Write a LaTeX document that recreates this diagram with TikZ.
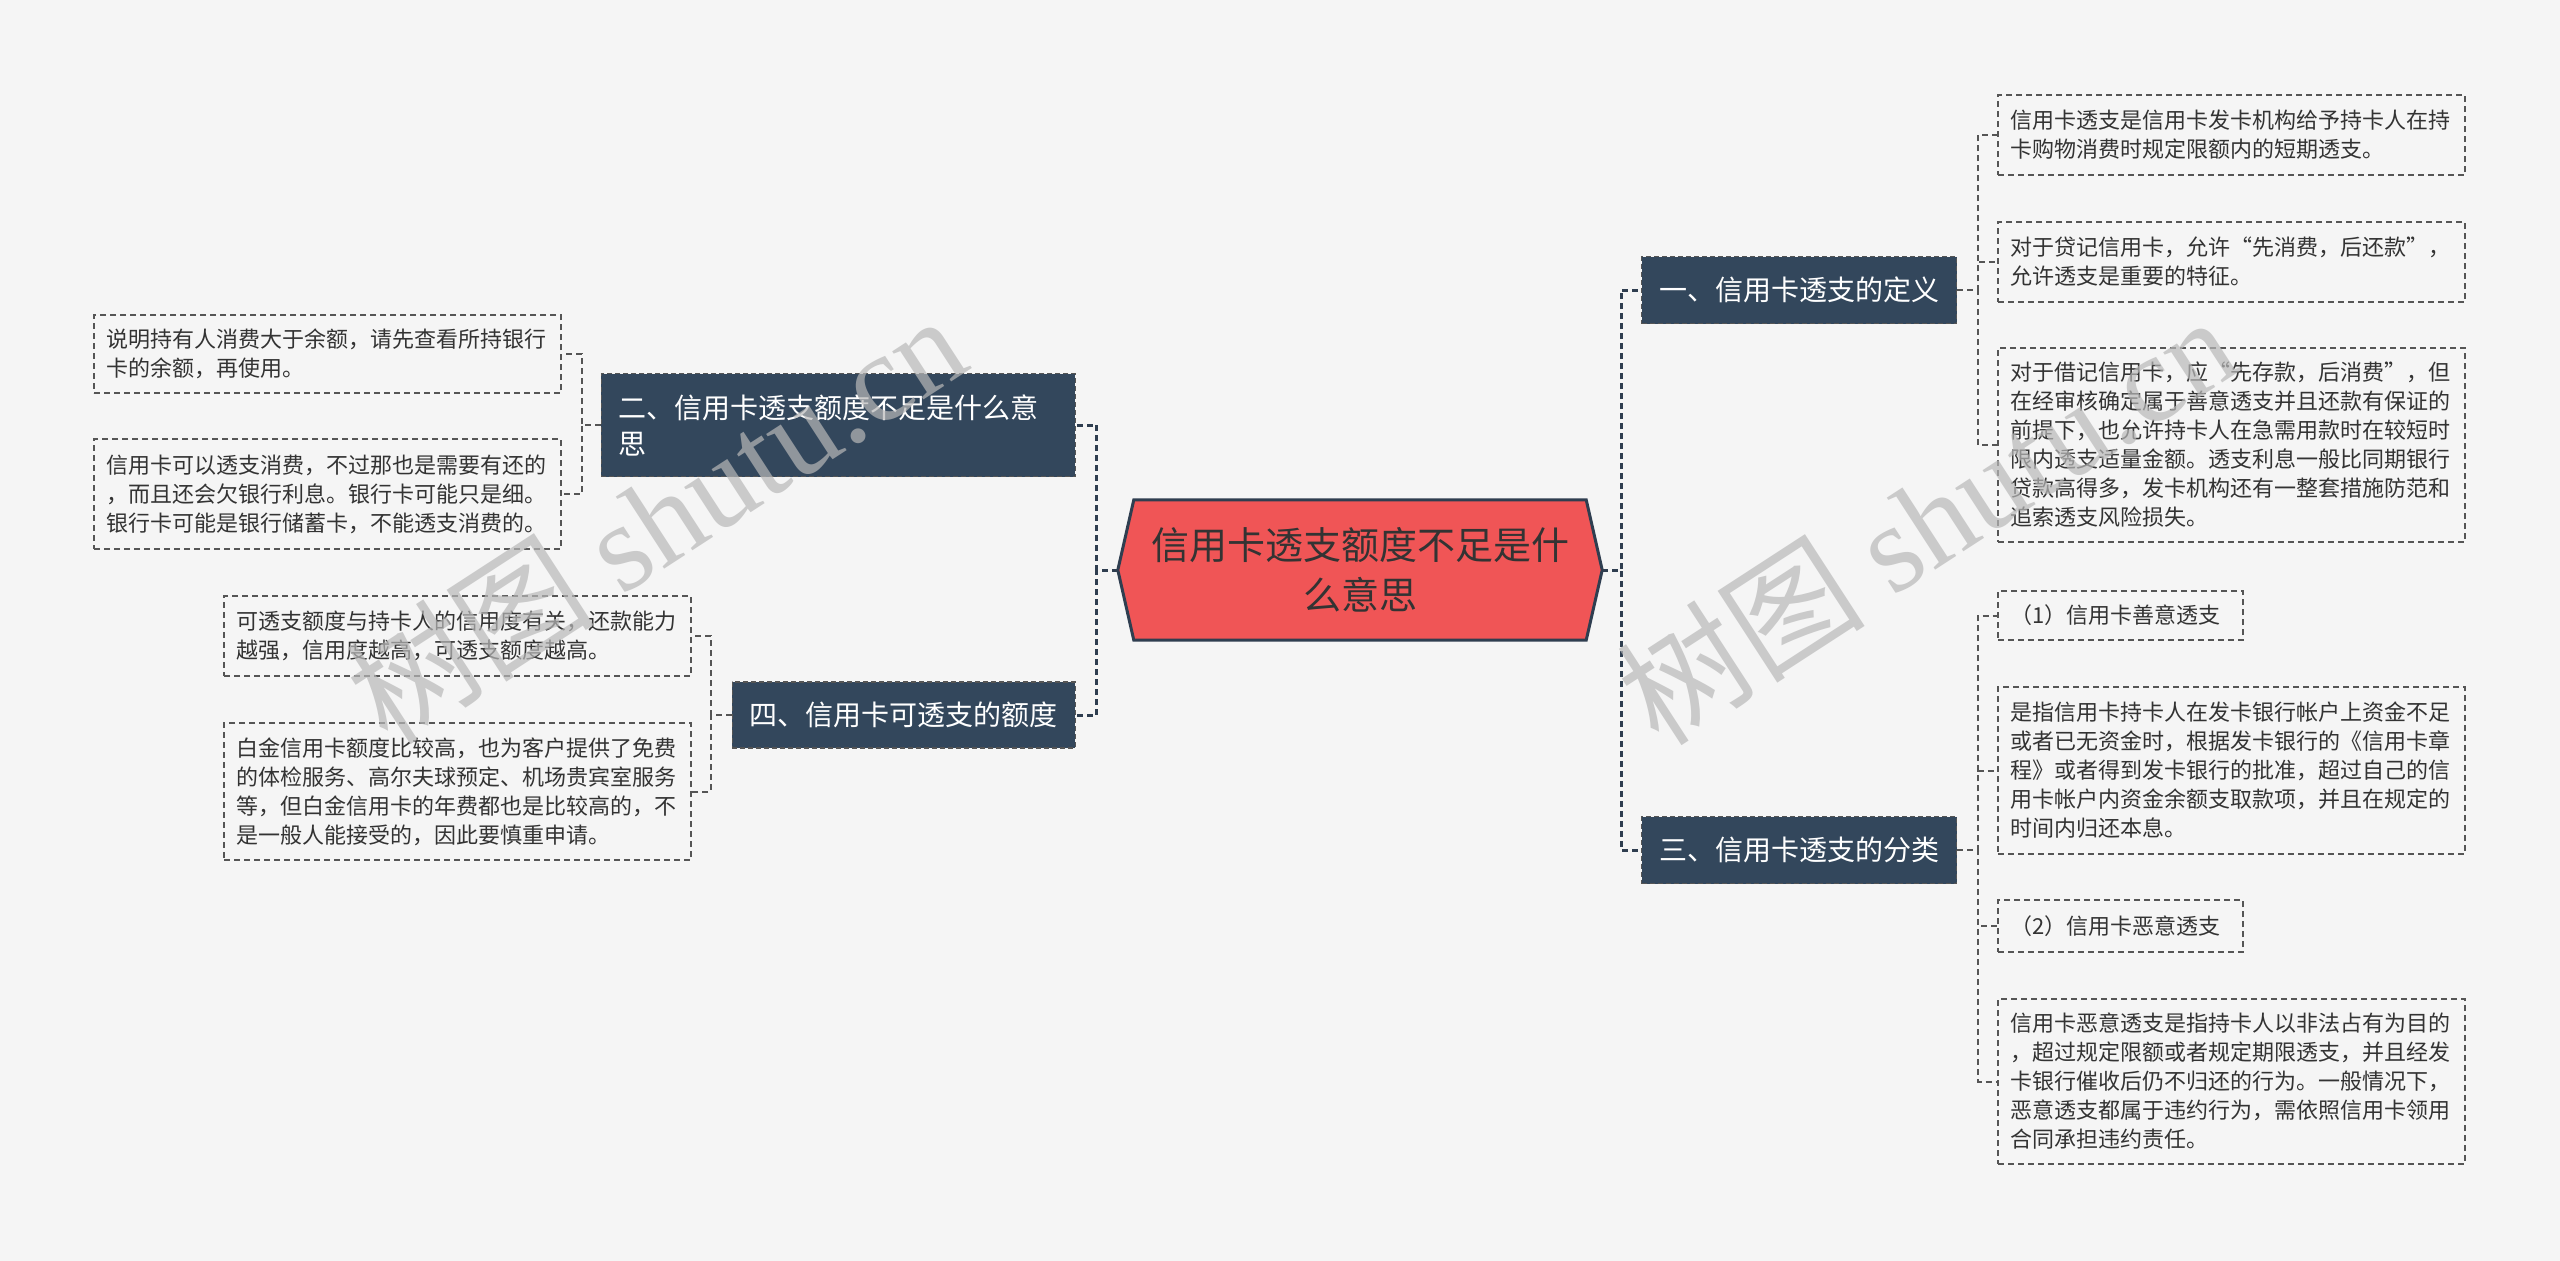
\documentclass[tikz,border=0pt]{standalone}
\usepackage{fontspec}
\setmainfont{Noto Sans CJK SC}
\newfontfamily\wmlatin{Liberation Serif}
\usetikzlibrary{calc}
\definecolor{bg}{HTML}{F5F5F5}
\definecolor{cfill}{HTML}{F05556}
\definecolor{cborder}{HTML}{2F3E50}
\definecolor{bfill}{HTML}{33475C}
\definecolor{ltext}{HTML}{333333}
\definecolor{lborder}{HTML}{555555}
\definecolor{wmgray}{HTML}{B8B8B8}
\tikzset{
  centernode/.style={inner sep=0pt, minimum width=452pt, minimum height=140pt, align=center,
    text=ltext, font=\fontsize{38}{50}\selectfont},
  branchbox/.style={fill=bfill, draw=lborder, dash pattern=on 5pt off 3pt, line width=1.2pt,
    text=white, inner xsep=17pt, inner ysep=0pt, font=\fontsize{28}{36}\selectfont},
  leafbox/.style={draw=lborder, dash pattern=on 6pt off 4pt, line width=2pt, text=ltext,
    inner xsep=12pt, inner ysep=0pt, align=left, font=\fontsize{22}{29}\selectfont},
  wide/.style={text width=443pt},
  narrow/.style={text width=221pt},
  trunk/.style={draw=cborder, dash pattern=on 6pt off 4pt, line width=3pt},
  conn/.style={draw=lborder, dash pattern=on 6pt off 4pt, line width=2pt},
  wm/.style={text=wmgray, opacity=0.7, font=\fontsize{125}{130}\selectfont, inner sep=0pt}
}
\begin{document}
\begin{tikzpicture}[x=1pt,y=-1pt]
\useasboundingbox[fill=bg] (0,0) rectangle (2560,1261);

% central node
\node[centernode] (c) at (1360,570) {信用卡透支额度不足是什\\么意思};
\coordinate (cR) at ($(c.east)+(16,0)$);
\coordinate (cL) at ($(c.west)+(-16,0)$);
\fill[cfill, draw=cborder, line width=3pt, line join=miter]
  (c.north west) -- (c.north east) -- (cR) -- (c.south east) -- (c.south west) -- (cL) -- cycle;
\node[centernode] at (c.center) {信用卡透支额度不足是什\\么意思};

% branches
\node[branchbox, anchor=west, minimum width=315pt, minimum height=67pt] (b1) at (1641,290) {一、信用卡透支的定义};
\node[branchbox, anchor=west, minimum width=315pt, minimum height=67pt] (b3) at (1641,850) {三、信用卡透支的分类};
\node[branchbox, anchor=east, minimum height=103pt, text width=440pt, align=left] (b2) at (1076,425) {二、信用卡透支额度不足是什么意\\思};
\node[branchbox, anchor=east, minimum width=343pt, minimum height=66pt] (b4) at (1076,715) {四、信用卡可透支的额度};

% right leaves
\node[leafbox, wide, anchor=west, minimum height=80pt] (r1) at (1997,135) {信用卡透支是信用卡发卡机构给予持卡人在持\\卡购物消费时规定限额内的短期透支。};
\node[leafbox, wide, anchor=west, minimum height=80pt] (r2) at (1997,262) {对于贷记信用卡，允许“先消费，后还款”，\\允许透支是重要的特征。};
\node[leafbox, wide, anchor=west, minimum height=194pt] (r3) at (1997,445) {对于借记信用卡，应“先存款，后消费”，但\\在经审核确定属于善意透支并且还款有保证的\\前提下，也允许持卡人在急需用款时在较短时\\限内透支适量金额。透支利息一般比同期银行\\贷款高得多，发卡机构还有一整套措施防范和\\追索透支风险损失。};
\node[leafbox, narrow, anchor=west, minimum height=49pt] (r4) at (1997,615.5) {（1）信用卡善意透支};
\node[leafbox, wide, anchor=west, minimum height=167pt] (r5) at (1997,770.5) {是指信用卡持卡人在发卡银行帐户上资金不足\\或者已无资金时，根据发卡银行的《信用卡章\\程》或者得到发卡银行的批准，超过自己的信\\用卡帐户内资金余额支取款项，并且在规定的\\时间内归还本息。};
\node[leafbox, narrow, anchor=west, minimum height=52pt] (r6) at (1997,926) {（2）信用卡恶意透支};
\node[leafbox, wide, anchor=west, minimum height=165pt] (r7) at (1997,1081.5) {信用卡恶意透支是指持卡人以非法占有为目的\\，超过规定限额或者规定期限透支，并且经发\\卡银行催收后仍不归还的行为。一般情况下，\\恶意透支都属于违约行为，需依照信用卡领用\\合同承担违约责任。};

% left leaves
\node[leafbox, wide, anchor=east, minimum height=78pt] (l1) at (562,354) {说明持有人消费大于余额，请先查看所持银行\\卡的余额，再使用。};
\node[leafbox, wide, anchor=east, minimum height=110pt] (l2) at (562,494) {信用卡可以透支消费，不过那也是需要有还的\\，而且还会欠银行利息。银行卡可能只是细。\\银行卡可能是银行储蓄卡，不能透支消费的。};
\node[leafbox, wide, anchor=east, minimum height=80pt] (l3) at (692,636) {可透支额度与持卡人的信用度有关，还款能力\\越强，信用度越高，可透支额度越高。};
\node[leafbox, wide, anchor=east, minimum height=137pt] (l4) at (692,791.5) {白金信用卡额度比较高，也为客户提供了免费\\的体检服务、高尔夫球预定、机场贵宾室服务\\等，但白金信用卡的年费都也是比较高的，不\\是一般人能接受的，因此要慎重申请。};

% connectors center -> branches
\draw[trunk] (cR) -- ++(19,0) |- (b1.west);
\draw[trunk] (cR) -- ++(19,0) |- (b3.west);
\draw[trunk] (cL) -- ++(-21,0) |- (b2.east);
\draw[trunk] (cL) -- ++(-21,0) |- (b4.east);

% connectors branches -> leaves
\foreach \l in {r1,r2,r3} { \draw[conn] (b1.east) -- ++(21,0) |- (\l.west); }
\foreach \l in {r4,r5,r6,r7} { \draw[conn] (b3.east) -- ++(21,0) |- (\l.west); }
\foreach \l in {l1,l2} { \draw[conn] (b2.west) -- ++(-19,0) |- (\l.east); }
\foreach \l in {l3,l4} { \draw[conn] (b4.west) -- ++(-21,0) |- (\l.east); }

% watermarks
\node[wm, rotate=33] (w1) at (655,518) {树图 {\wmlatin shutu.cn}};
\node[wm, rotate=33] (w2) at (1926,519) {树图 {\wmlatin shutu.cn}};
\end{tikzpicture}
\end{document}
